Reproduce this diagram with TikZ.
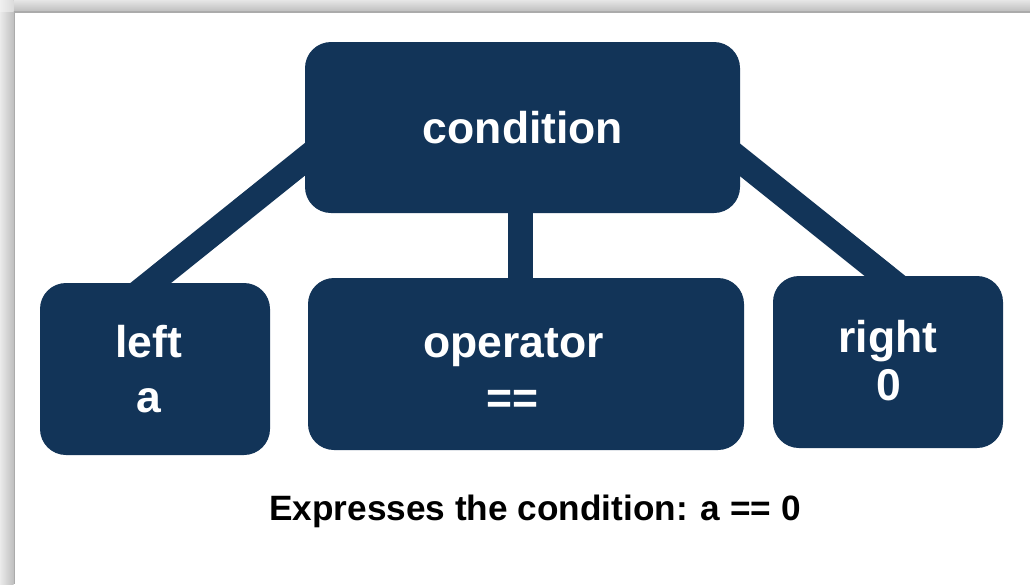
\documentclass[tikz,border=0pt]{standalone}
\usepackage{fontspec}
\setmainfont{Liberation Sans}
\usetikzlibrary{calc}
\definecolor{navy}{RGB}{18,52,88}
\pgfdeclarelayer{links}
\pgfsetlayers{links,main}
\tikzset{
  box/.style={fill=navy, draw=none, rounded corners=26pt, inner sep=0pt},
  link/.style={draw=navy, line width=25.5pt},
  lbl/.style={text=white, font=\fontsize{44.5}{55}\selectfont\bfseries, inner sep=0pt, anchor=base},
  caption/.style={text=black, font=\fontsize{35.2}{42}\selectfont\bfseries, inner sep=0pt, anchor=base}
}
\begin{document}
\begin{tikzpicture}[x=1pt, y=-1pt]
  \useasboundingbox (0,0) rectangle (1030,584);
  % page shadow along the top and left edges
  \begin{pgfonlayer}{links}
    \fill[white] (0,0) rectangle (1030,584);
    \shade[top color=black!10, bottom color=black!25] (0,0) rectangle (1030,11);
    \fill[black!33] (0,11) rectangle (1030,12.5);
    \shade[left color=black!8, right color=black!25] (0,0) rectangle (13.5,584);
    \fill[black!33] (13.5,12.5) rectangle (15,584);
    \shade[left color=black!6, right color=black!14] (0,0) rectangle (13.5,11);
  \end{pgfonlayer}

  % boxes
  \node[box, minimum width=435pt, minimum height=171pt] (cond) at (522.5,127.5) {};
  \node[box, minimum width=230pt, minimum height=172pt] (lft) at (155,369) {};
  \node[box, minimum width=436pt, minimum height=172pt] (op) at (526,364) {};
  \node[box, minimum width=230pt, minimum height=172pt] (rgt) at (888,362) {};

  % connectors, underneath the boxes
  \begin{pgfonlayer}{links}
    \draw[link] ($(lft.north)+(-25.2,17)$) -- ($(cond.west)+(30,7.8)$);
    \draw[link] ($(cond.east)+(-30,8.5)$) -- ($(rgt.north)+(20.5,19)$);
    \draw[link] ($(cond.south)+(-2,-10)$) -- ($(op.north)+(-5.5,10)$);
  \end{pgfonlayer}

  % box labels
  \node[lbl] (tcond) at (523,143.5) {condition};
  \node[lbl] (tleft) at (149,357) {left};
  \node[lbl] (tlefta) at (148.5,412) {a};
  \node[lbl] (top) at (513.5,357) {operator};
  \node[lbl] (topeq) at (512.5,413) {==};
  \node[lbl] (tright) at (888,352) {right};
  \node[lbl] (trightz) at (889,400.5) {0};

  % caption
  \node[caption] (cap) at (535,520.5) {Expresses the condition: a == 0};
\end{tikzpicture}
\end{document}
